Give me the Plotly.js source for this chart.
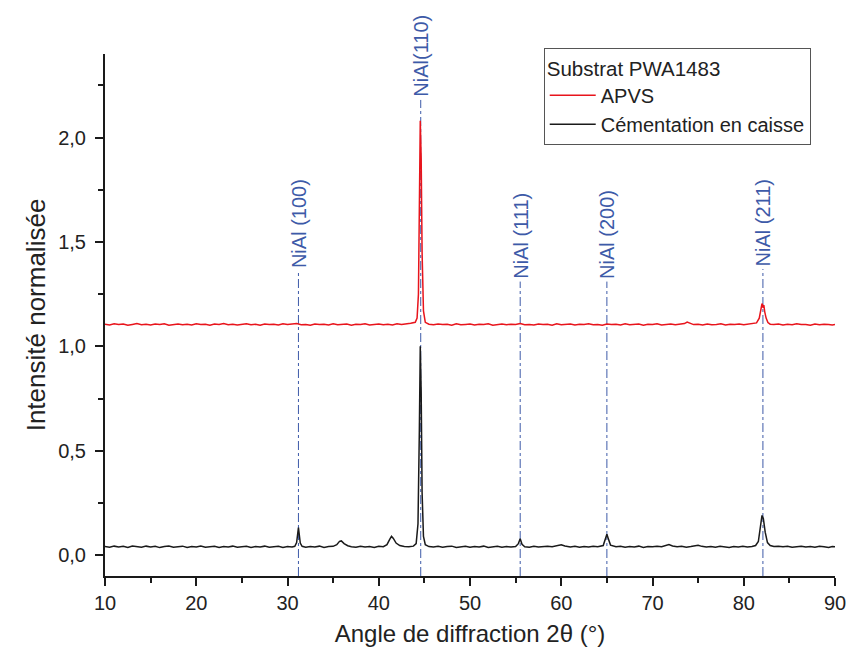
<!DOCTYPE html>
<html>
<head>
<meta charset="utf-8">
<script src="https://cdn.plot.ly/plotly-3.0.1.min.js"></script>
<style>html,body{margin:0;padding:0;background:#fff;}#chart{width:848px;height:652px;}</style>
</head>
<body>
<div id="chart"></div>
<script>
// Cémentation en caisse (black)
const cemX = [10,10.5,11,11.5,12,12.5,13,13.5,14,14.5,15,15.5,16,16.5,17,17.5,18,18.5,19,19.5,
20,20.5,21,21.5,22,22.5,23,23.5,24,24.5,25,25.5,26,26.5,27,27.5,28,28.5,29,29.5,
30,30.5,30.8,31,31.1,31.2,31.3,31.4,31.6,32,32.5,33,33.5,34,34.5,35,35.4,35.7,35.9,36.2,
36.6,37,37.5,38,38.5,39,39.5,40,40.5,40.9,41.2,41.4,41.6,41.9,42.3,42.8,43.3,43.8,44.1,44.3,
44.45,44.55,44.65,44.75,44.9,45.1,45.5,46,46.5,47,47.5,48,48.5,49,49.5,50,50.5,51,51.5,52,
52.5,53,53.5,54,54.5,55,55.3,55.5,55.7,56,56.5,57,57.5,58,58.5,59,59.6,60,60.4,61,
61.5,62,62.5,63,63.5,64,64.6,64.9,65,65.15,65.4,66,66.5,67,67.5,68,68.5,69,69.5,70,
70.5,71,71.4,71.8,72.2,72.7,73.2,73.7,74.2,74.7,75,75.4,75.9,76.4,76.9,77.4,77.9,78.4,78.9,79.4,
79.9,80.4,80.9,81.3,81.6,81.85,82,82.15,82.35,82.6,82.9,83.3,83.8,84.3,84.8,85.3,85.8,86.3,86.8,87.3,
87.8,88.3,88.8,89.3,89.7,90];
const cemY = [0.041,0.038,0.043,0.039,0.042,0.037,0.044,0.040,0.038,0.043,0.039,0.042,0.036,0.041,0.044,0.038,0.040,0.043,0.037,0.041,
0.039,0.044,0.038,0.040,0.042,0.037,0.041,0.039,0.043,0.038,0.040,0.042,0.037,0.041,0.039,0.043,0.038,0.040,0.042,0.037,
0.041,0.039,0.042,0.060,0.100,0.132,0.095,0.058,0.042,0.038,0.041,0.039,0.043,0.037,0.041,0.042,0.050,0.066,0.068,0.055,
0.045,0.040,0.038,0.042,0.039,0.041,0.037,0.042,0.040,0.050,0.075,0.090,0.080,0.058,0.046,0.041,0.040,0.043,0.055,0.150,
0.600,1.000,0.780,0.300,0.090,0.050,0.041,0.039,0.042,0.038,0.041,0.043,0.037,0.040,0.042,0.038,0.041,0.039,0.043,0.037,
0.040,0.042,0.038,0.041,0.039,0.041,0.055,0.078,0.052,0.040,0.038,0.042,0.039,0.041,0.043,0.040,0.045,0.050,0.044,0.039,
0.042,0.038,0.041,0.039,0.043,0.040,0.046,0.085,0.100,0.080,0.048,0.040,0.042,0.038,0.041,0.039,0.043,0.037,0.041,0.040,
0.042,0.040,0.045,0.051,0.044,0.040,0.042,0.038,0.041,0.043,0.047,0.042,0.039,0.041,0.038,0.042,0.040,0.037,0.041,0.039,
0.042,0.039,0.041,0.046,0.065,0.150,0.190,0.175,0.110,0.060,0.046,0.041,0.043,0.040,0.042,0.038,0.041,0.043,0.039,0.041,
0.038,0.042,0.040,0.037,0.041,0.040];

// APVS (red)
const apvsX = [10,10.5,11,11.5,12,12.5,13,13.5,14,14.5,15,15.5,16,16.5,17,17.5,18,18.5,19,19.5,
20,20.5,21,21.5,22,22.5,23,23.5,24,24.5,25,25.5,26,26.5,27,27.5,28,28.5,29,29.5,
30,30.5,31,31.5,32,32.5,33,33.5,34,34.5,35,35.5,36,36.5,37,37.5,38,38.5,39,39.5,
40,40.5,41,41.5,42,42.5,43,43.5,44,44.2,44.35,44.45,44.55,44.65,44.75,44.9,45.1,45.5,46,46.5,
47,47.5,48,48.5,49,49.5,50,50.5,51,51.5,52,52.5,53,53.5,54,54.5,55,55.5,56,56.5,
57,57.5,58,58.5,59,59.5,60,60.5,61,61.5,62,62.5,63,63.5,64,64.5,65,65.5,66,66.5,
67,67.5,68,68.5,69,69.5,70,70.5,71,71.5,72,72.5,73,73.5,73.8,74.1,74.5,75,75.5,76,
76.5,77,77.5,78,78.5,79,79.5,80,80.5,81,81.4,81.7,81.9,82.0,82.1,82.2,82.3,82.45,82.65,82.9,
83.3,83.8,84.3,84.8,85.3,85.8,86.3,86.8,87.3,87.8,88.3,88.8,89.3,89.7,90];
const apvsY = [1.106,1.102,1.108,1.104,1.107,1.101,1.105,1.109,1.103,1.106,1.102,1.107,1.104,1.108,1.101,1.105,1.107,1.103,1.106,1.102,
1.108,1.104,1.106,1.101,1.107,1.105,1.109,1.103,1.106,1.102,1.105,1.108,1.103,1.106,1.101,1.107,1.104,1.106,1.102,1.108,
1.104,1.106,1.109,1.103,1.105,1.101,1.107,1.104,1.106,1.102,1.108,1.103,1.105,1.107,1.101,1.106,1.104,1.108,1.102,1.105,
1.107,1.103,1.106,1.102,1.108,1.104,1.106,1.110,1.115,1.135,1.250,1.650,2.080,1.900,1.450,1.170,1.115,1.106,1.103,1.107,
1.104,1.106,1.101,1.108,1.103,1.105,1.107,1.102,1.106,1.104,1.108,1.101,1.105,1.107,1.103,1.106,1.104,1.109,1.103,1.105,
1.102,1.107,1.104,1.106,1.101,1.108,1.103,1.105,1.107,1.102,1.106,1.104,1.108,1.103,1.105,1.101,1.107,1.104,1.106,1.102,
1.108,1.103,1.105,1.107,1.101,1.106,1.104,1.108,1.102,1.105,1.107,1.103,1.106,1.109,1.116,1.110,1.104,1.106,1.102,1.107,
1.103,1.105,1.108,1.102,1.106,1.104,1.107,1.103,1.105,1.108,1.112,1.135,1.175,1.205,1.185,1.198,1.165,1.135,1.114,1.106,
1.104,1.107,1.102,1.106,1.103,1.108,1.104,1.105,1.101,1.107,1.103,1.106,1.104,1.102,1.105];

// NiAl reference peak markers
const peakX = [31.2, 44.6, 55.5, 65.0, 82.1];
const peakTop = [1.36, 2.18, 1.31, 1.31, 1.37];
const peakLabels = ['NiAl (100)', 'NiAl(110)', 'NiAl (111)', 'NiAl (200)', 'NiAl (211)'];

const FONT = 'Liberation Sans, Arial, sans-serif';
const BLUE = '#3d5aa8';
const INK = '#222';

const traces = [
  {x: apvsX, y: apvsY, type: 'scatter', mode: 'lines', name: 'APVS',
   line: {color: '#e8141c', width: 1.5}},
  {x: cemX, y: cemY, type: 'scatter', mode: 'lines', name: 'Cémentation en caisse',
   line: {color: '#1a1a1a', width: 1.5}}
];

const shapes = peakX.map((px, i) => ({
  type: 'line', xref: 'x', yref: 'y', x0: px, x1: px, y0: -0.1, y1: peakTop[i],
  line: {color: BLUE, width: 1, dash: 'dashdot'}, layer: 'below'
}));

const annotations = peakX.map((px, i) => ({
  x: px, y: peakTop[i], xref: 'x', yref: 'y', text: peakLabels[i],
  textangle: -90, showarrow: false, xanchor: 'center', yanchor: 'bottom', yshift: 1,
  font: {family: FONT, size: 20, color: BLUE}
}));

const layout = {
  width: 848, height: 652,
  margin: {l: 105, r: 13, t: 54, b: 76},
  paper_bgcolor: '#fff', plot_bgcolor: '#fff',
  separators: ', ',
  font: {family: FONT, color: INK},
  showlegend: true,
  legend: {
    x: 0.601, y: 1.0115, xanchor: 'left', yanchor: 'top',
    bgcolor: '#fff', bordercolor: '#555', borderwidth: 1,
    font: {family: FONT, size: 20, color: INK},
    title: {text: 'Substrat PWA1483', font: {family: FONT, size: 20.5, color: INK}},
    itemwidth: 46,
    tracegroupgap: 0
  },
  xaxis: {
    range: [10, 90], dtick: 10, tick0: 10,
    showgrid: false, zeroline: false,
    showline: true, linecolor: '#1a1a1a', linewidth: 2,
    ticks: 'outside', ticklen: 8, tickwidth: 2, tickcolor: '#1a1a1a',
    minor: {dtick: 5, ticks: 'outside', ticklen: 5, tickwidth: 2, tickcolor: '#1a1a1a'},
    tickfont: {family: FONT, size: 20, color: INK},
    ticklabelstandoff: 0,
    title: {text: 'Angle de diffraction 2θ (°)', font: {family: FONT, size: 24, color: INK}, standoff: 12}
  },
  yaxis: {
    range: [-0.1, 2.4], dtick: 0.5, tick0: 0, tickformat: '.1f',
    showgrid: false, zeroline: false,
    showline: true, linecolor: '#1a1a1a', linewidth: 2,
    ticks: 'outside', ticklen: 8, tickwidth: 2, tickcolor: '#1a1a1a',
    minor: {dtick: 0.25, ticks: 'outside', ticklen: 5, tickwidth: 2, tickcolor: '#1a1a1a'},
    tickfont: {family: FONT, size: 20, color: INK},
    ticklabelstandoff: 5,
    title: {text: 'Intensité normalisée', font: {family: FONT, size: 26, color: INK}, standoff: 5}
  },
  shapes: shapes,
  annotations: annotations
};

Plotly.newPlot('chart', traces, layout, {displayModeBar: false, staticPlot: true});
</script>
</body>
</html>
